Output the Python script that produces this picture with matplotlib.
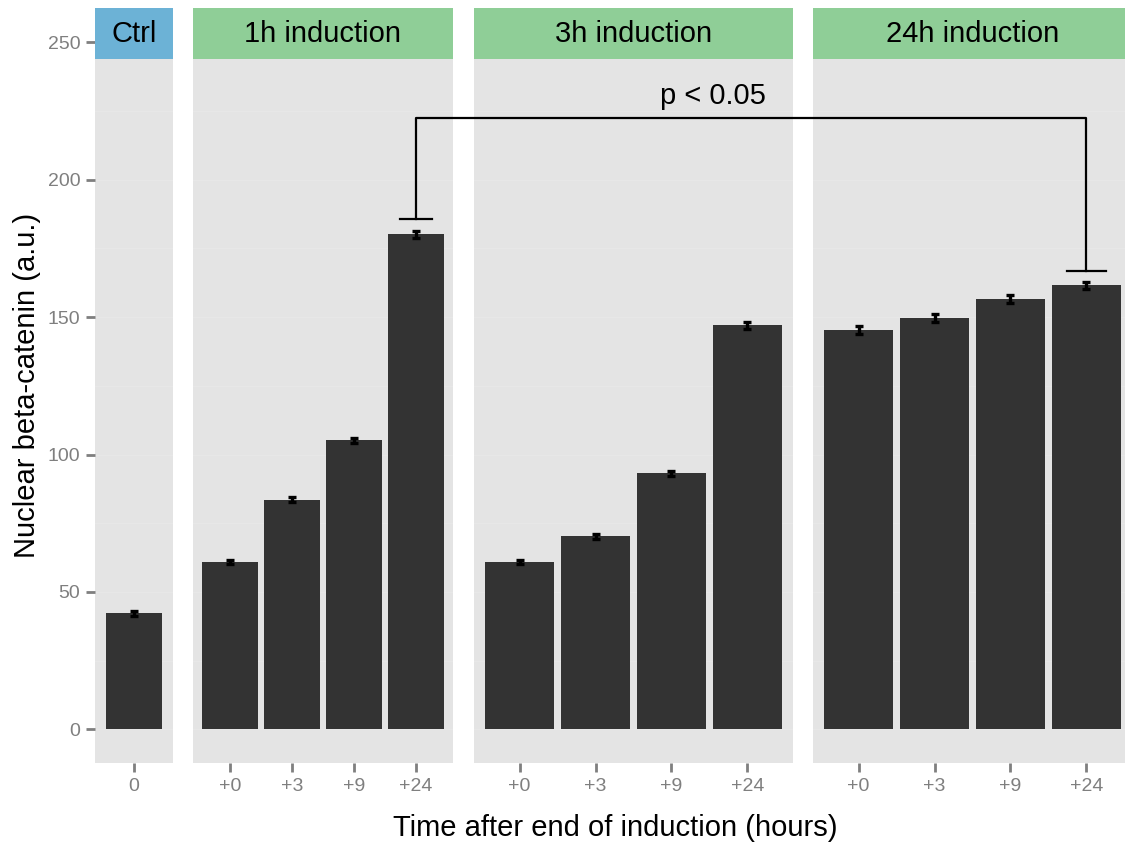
import matplotlib
matplotlib.use("Agg")
import matplotlib.pyplot as plt
from matplotlib.patches import Rectangle
from matplotlib.lines import Line2D

# -----------------------------
# Data
# -----------------------------
panel_names = ["Ctrl", "1h induction", "3h induction", "24h induction"]
panel_colors = ["#6CB2D6", "#8FCE97", "#8FCE97", "#8FCE97"]

ctrl_labels = ["0"]
ctrl_values = [42.3]
ctrl_errors = [0.9]

time_labels = ["+0", "+3", "+9", "+24"]
h1_values = [60.9, 83.5, 105.2, 180.1]
h1_errors = [0.9, 0.9, 0.9, 1.3]
h3_values = [60.9, 70.3, 93.2, 147.0]
h3_errors = [0.9, 0.9, 0.9, 1.2]
h24_values = [145.3, 149.6, 156.6, 161.5]
h24_errors = [1.3, 1.4, 1.4, 1.4]

y_ticks = [0, 50, 100, 150, 200, 250]

# significance bracket: 1h +24 vs 24h +24
sig_text = "p < 0.05"
sig_top = 222.4
sig_left_end = 185.6
sig_right_end = 166.7

# -----------------------------
# Layout (figure fractions)
# -----------------------------
W, H = 1125, 846
fig = plt.figure(figsize=(W / 100, H / 100), dpi=100)
plt.rcParams["font.family"] = ["Liberation Sans", "DejaVu Sans"]

panel_px = [(95, 78), (193, 260), (474, 319), (813, 319)]
bar_widths = [0.85, 0.9, 0.9, 0.9]
bottom_px, top_px, strip_px = 763, 8, 59
ylim = (-12.2, 262.4)
strip_frac = (bottom_px - strip_px) / (bottom_px - top_px)

TICK_GREY = "#7F7F7F"
PANEL_BG = "#E4E4E4"
BAR_COLOR = "#333333"

panel_data = [
    (ctrl_labels, ctrl_values, ctrl_errors),
    (time_labels, h1_values, h1_errors),
    (time_labels, h3_values, h3_errors),
    (time_labels, h24_values, h24_errors),
]

axes = []
for i, ((left, width), (labels, vals, errs)) in enumerate(zip(panel_px, panel_data)):
    ax = fig.add_axes([left / W, 1 - bottom_px / H, width / W, (bottom_px - top_px) / H])
    axes.append(ax)
    n = len(vals)
    xs = list(range(n))
    ax.set_facecolor(PANEL_BG)
    for y in range(0, 275, 25):
        ax.axhline(y, color="#E7E7E7", lw=1.0, zorder=0)
    ax.bar(xs, vals, width=bar_widths[i], color=BAR_COLOR, zorder=2)
    ax.errorbar(xs, vals, yerr=errs, fmt="none", ecolor="black",
                elinewidth=2.4, capsize=3.2, capthick=2.4, zorder=3)
    ax.set_xlim(-0.6, n - 0.4)
    ax.set_ylim(*ylim)
    ax.set_xticks(xs)
    ax.set_xticklabels(labels)
    for s in ax.spines.values():
        s.set_visible(False)
    ax.tick_params(axis="both", colors=TICK_GREY, labelcolor=TICK_GREY,
                   labelsize=14, length=6.5, width=2.0, pad=4)
    if i == 0:
        ax.set_yticks(y_ticks)
    else:
        ax.set_yticks([])

    # facet strip
    ax.add_patch(Rectangle((0, strip_frac), 1, 1 - strip_frac, transform=ax.transAxes,
                           facecolor=panel_colors[i], edgecolor="none", zorder=5,
                           clip_on=False))
    ax.text(0.5, (strip_frac + 1) / 2, panel_names[i], transform=ax.transAxes,
            ha="center", va="center", fontsize=21, color="black", zorder=6)

axes[0].set_ylabel("Nuclear beta-catenin (a.u.)", fontsize=21, labelpad=5)
fig.text(615 / W, 1 - 828 / H, "Time after end of induction (hours)",
         ha="center", va="center", fontsize=21)

# -----------------------------
# Significance bracket across panels
# -----------------------------
def to_fig(ax, x, y):
    return fig.transFigure.inverted().transform(ax.transData.transform((x, y)))

ax_a, ax_b = axes[1], axes[3]
pts = [to_fig(ax_a, 3, sig_left_end), to_fig(ax_a, 3, sig_top),
       to_fig(ax_b, 3, sig_top), to_fig(ax_b, 3, sig_right_end)]
fig.add_artist(Line2D([p[0] for p in pts], [p[1] for p in pts],
                      color="black", lw=1.6, transform=fig.transFigure))
for ax, yv in [(ax_a, sig_left_end), (ax_b, sig_right_end)]:
    c0 = to_fig(ax, 3 - 0.26, yv)
    c1 = to_fig(ax, 3 + 0.26, yv)
    fig.add_artist(Line2D([c0[0], c1[0]], [c0[1], c1[1]], color="black", lw=1.6,
                          transform=fig.transFigure))
axes[2].text(2.55, 230.5, sig_text, ha="center", va="center", fontsize=21, zorder=6)

fig.savefig("out.png", dpi=100)
